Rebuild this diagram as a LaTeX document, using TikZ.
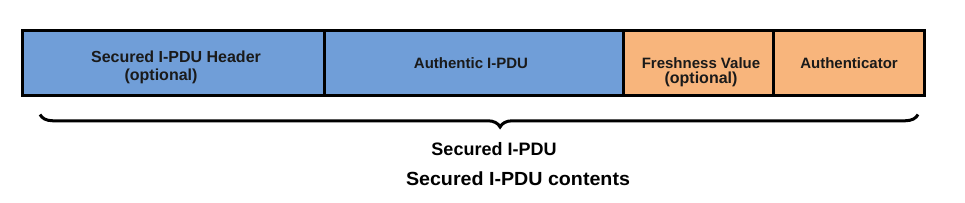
\documentclass[tikz,border=0pt]{standalone}
\usepackage{fontspec}
\setmainfont{Liberation Sans}
\usetikzlibrary{decorations.pathreplacing}
\definecolor{blueF}{RGB}{112,158,216}
\definecolor{orangeF}{RGB}{248,181,124}
\definecolor{txt}{RGB}{26,26,26}
\begin{document}
\begin{tikzpicture}[x=1pt,y=-1pt,
  field/.style={draw=black, line width=3pt, inner sep=0pt, outer sep=0pt, minimum height=65pt},
  lbl/.style={anchor=base, inner sep=0pt, text=txt, font=\fontsize{15}{18}\selectfont\bfseries},
  lblbig/.style={anchor=base, inner sep=0pt, text=txt, font=\fontsize{16}{19}\selectfont\bfseries},
  bracestyle/.style={line width=3pt, decorate, decoration={brace, amplitude=12.5pt, aspect=0.476}},
  caption/.style={anchor=base, inner sep=0pt, text=black, font=\bfseries}]
\useasboundingbox (0,0) rectangle (965,203);
% fields
\node[field, fill=blueF, minimum width=302pt] (hdr) at (173,63) {};
\node[field, fill=blueF, minimum width=299pt] (auth) at (473.5,63) {};
\node[field, fill=orangeF, minimum width=150pt] (fresh) at (698,63) {};
\node[field, fill=orangeF, minimum width=151pt] (mac) at (848.5,63) {};
% labels
\node[lblbig] (hdrA) at (176,63) {Secured I-PDU Header};
\node[lblbig] (hdrB) at (161,81) {(optional)};
\node[lbl] (authL) at (471,69) {Authentic I-PDU};
\node[lbl] (freshA) at (701,69) {Freshness Value};
\node[lblbig] (freshB) at (701,84) {(optional)};
\node[lbl] (macL) at (849,69) {Authenticator};
% brace
\coordinate (bR) at (918,114.5);
\coordinate (bL) at (40,114.5);
\draw[bracestyle] (bR) -- (bL);
% captions
\node[caption, font=\fontsize{18}{21}\selectfont\bfseries] (sec) at (494,155) {Secured I-PDU};
\node[caption, font=\fontsize{19}{23}\selectfont\bfseries] (cont) at (518,185) {\scalebox{1.035}[1]{Secured I-PDU contents}};
\end{tikzpicture}
\end{document}
